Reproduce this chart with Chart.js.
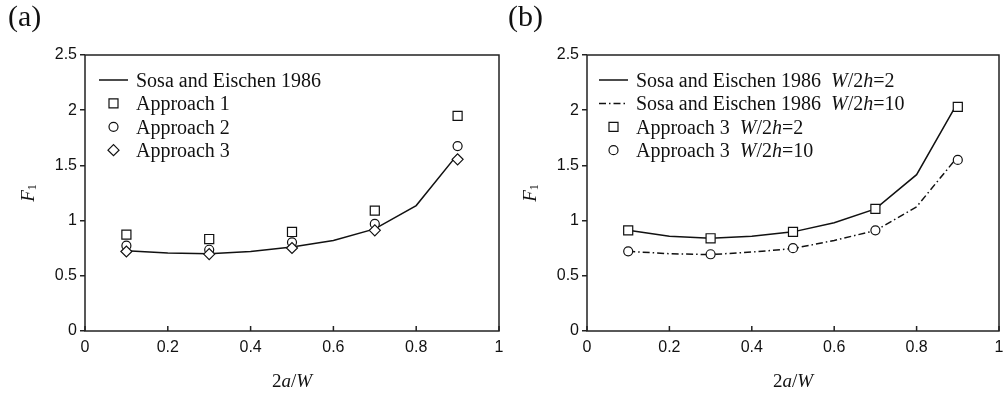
<!DOCTYPE html>
<html><head><meta charset="utf-8">
<script src="https://cdn.jsdelivr.net/npm/chart.js@4.4.1/dist/chart.umd.min.js"></script>
<style>
html,body{margin:0;padding:0;background:#fff;width:1003px;height:396px;overflow:hidden;position:relative;}
canvas{position:absolute;top:0;}
#ca{left:0;} #cb{left:500px;}
</style></head><body>
<canvas id="ca" width="540" height="396"></canvas>
<canvas id="cb" width="540" height="396"></canvas>
<script>
// ---- tick labels ----
const xTickValues = [0, 0.2, 0.4, 0.6, 0.8, 1];
const xTickLabels = ['0', '0.2', '0.4', '0.6', '0.8', '1'];
const yTickValues = [0, 0.5, 1, 1.5, 2, 2.5];
const yTickLabels = ['0', '0.5', '1', '1.5', '2', '2.5'];

// ---- categories (2a/W) ----
const sosaX = [0.1, 0.2, 0.3, 0.4, 0.5, 0.6, 0.7, 0.8, 0.9];
const approachX = [0.1, 0.3, 0.5, 0.7, 0.9];

// ---- panel (a) series ----
const sosaA = [0.727, 0.706, 0.70, 0.72, 0.76, 0.82, 0.925, 1.136, 1.60];
const approach1A = [0.873, 0.833, 0.897, 1.09, 1.948];
const approach2A = [0.773, 0.736, 0.803, 0.97, 1.675];
const approach3A = [0.72, 0.697, 0.752, 0.912, 1.555];

// ---- panel (b) series ----
const sosaB2 = [0.912, 0.858, 0.84, 0.858, 0.898, 0.98, 1.106, 1.416, 2.07];
const sosaB10 = [0.722, 0.70, 0.692, 0.715, 0.747, 0.82, 0.91, 1.125, 1.58];
const approach3B2 = [0.912, 0.84, 0.898, 1.106, 2.03];
const approach3B10 = [0.722, 0.695, 0.75, 0.912, 1.55];

const SERIF = "'Liberation Serif', 'Times New Roman', serif";
const SANS = "'Liberation Sans', Arial, sans-serif";
const INK = '#111';
const AXIS = '#222';

function pts(xs, ys) { return xs.map((x, i) => ({x: x, y: ys[i]})); }

function drawRuns(ctx, parts, x, y, align) {
  let w = 0;
  parts.forEach(p => { ctx.font = p[1]; w += ctx.measureText(p[0]).width; });
  let cx = align === 'center' ? x - w / 2 : x;
  parts.forEach(p => {
    ctx.font = p[1];
    ctx.fillText(p[0], cx, y + (p[2] || 0));
    cx += ctx.measureText(p[0]).width;
  });
  return w;
}
function runsWidth(ctx, parts) {
  let w = 0;
  parts.forEach(p => { ctx.font = p[1]; w += ctx.measureText(p[0]).width; });
  return w;
}

function drawMarker(ctx, kind, x, y) {
  ctx.save();
  ctx.strokeStyle = INK; ctx.fillStyle = '#fff'; ctx.lineWidth = 1.2;
  ctx.beginPath();
  if (kind === 'rect') { ctx.rect(x - 4.5, y - 4.5, 9, 9); }
  else if (kind === 'circle') { ctx.arc(x, y, 4.5, 0, Math.PI * 2); }
  else if (kind === 'rectRot') { ctx.moveTo(x - 5.5, y); ctx.lineTo(x, y - 5.5); ctx.lineTo(x + 5.5, y); ctx.lineTo(x, y + 5.5); ctx.closePath(); }
  ctx.fill(); ctx.stroke();
  ctx.restore();
}

function decor(panelLabel, legendRows) {
  return {
    id: 'decor',
    beforeDatasetsDraw(chart) {
      const {ctx, chartArea: a} = chart;
      ctx.save();
      ctx.strokeStyle = AXIS; ctx.lineWidth = 1.5;
      ctx.strokeRect(a.left, a.top, a.right - a.left, a.bottom - a.top);
      // inward x ticks
      const xs = chart.scales.x;
      ctx.beginPath();
      xs.ticks.forEach(t => {
        const px = xs.getPixelForValue(t.value);
        ctx.moveTo(px, a.bottom); ctx.lineTo(px, a.bottom - 5);
      });
      ctx.stroke();
      ctx.restore();
    },
    afterDraw(chart) {
      const {ctx, chartArea: a} = chart;
      ctx.save();
      ctx.fillStyle = INK;
      ctx.textBaseline = 'alphabetic';
      ctx.textAlign = 'left';
      // panel label
      ctx.font = '30px ' + SERIF;
      ctx.fillText(panelLabel, 8, 26);
      // x title 2a/W
      const it = 'italic 19px ' + SERIF, rm = '19px ' + SERIF;
      drawRuns(ctx, [['2', rm], ['a', it], ['/', rm], ['W', it]], (a.left + a.right) / 2, 387, 'center');
      // y title F1
      const yparts = [['F', it], ['1', '12px ' + SERIF, 2.5]];
      const yw = runsWidth(ctx, yparts);
      ctx.save();
      ctx.translate(a.left - 51.5, (a.top + a.bottom) / 2 + yw / 2);
      ctx.rotate(-Math.PI / 2);
      drawRuns(ctx, yparts, 0, 0, 'left');
      ctx.restore();
      // legend
      const lx0 = 99, lx1 = 128, mx = 113.5, tx = 136;
      const lt = '20px ' + SERIF, li = 'italic 20px ' + SERIF;
      legendRows.forEach((r, i) => {
        const cy = 80 + i * 23.4;
        if (r.kind === 'line') {
          ctx.save();
          ctx.strokeStyle = INK; ctx.lineWidth = 1.5;
          ctx.setLineDash(r.dash || []);
          ctx.beginPath(); ctx.moveTo(lx0, cy); ctx.lineTo(lx1, cy); ctx.stroke();
          ctx.restore();
        } else {
          drawMarker(ctx, r.kind, mx, cy);
        }
        const parts = r.text.map(s => [s[0], s[1] ? li : lt]);
        drawRuns(ctx, parts, tx, cy + 7, 'left');
      });
      ctx.restore();
    }
  };
}

function lineDs(label, xs, ys, dash) {
  return {type: 'line', label: label, data: pts(xs, ys), borderColor: INK, borderWidth: 1.5,
    borderDash: dash || [], pointRadius: 0, tension: 0, fill: false, order: 2};
}
function markDs(label, xs, ys, style, r) {
  return {type: 'scatter', label: label, data: pts(xs, ys), showLine: false, pointStyle: style,
    pointRadius: r, pointHoverRadius: r, pointBorderColor: INK, pointBackgroundColor: '#fff',
    pointBorderWidth: 1.2, order: 0};
}

function makeChart(id, yAxisWidth, datasets, label, rows) {
  return new Chart(document.getElementById(id), {
    type: 'line',
    data: {datasets: datasets},
    options: {
      responsive: false, animation: false, devicePixelRatio: 1,
      layout: {padding: {left: 0, right: 41, top: 55, bottom: 0}},
      plugins: {legend: {display: false}, tooltip: {enabled: false}, title: {display: false}},
      scales: {
        x: {
          type: 'linear', min: 0, max: 1,
          afterBuildTicks: s => { s.ticks = xTickValues.map(v => ({value: v})); },
          afterFit: s => { s.height = 65; },
          ticks: {callback: (v) => xTickLabels[xTickValues.indexOf(v)], color: INK,
            font: {family: SANS, size: 16}, padding: 7, maxRotation: 0, autoSkip: false},
          grid: {display: true, drawOnChartArea: false, drawTicks: false},
          border: {display: false}
        },
        y: {
          type: 'linear', min: 0, max: 2.5,
          afterBuildTicks: s => { s.ticks = yTickValues.map(v => ({value: v})); },
          afterFit: s => { s.width = yAxisWidth; },
          ticks: {callback: (v) => yTickLabels[yTickValues.indexOf(v)], color: INK,
            font: {family: SANS, size: 16}, padding: 3, autoSkip: false},
          grid: {display: true, drawOnChartArea: false, drawTicks: true, tickLength: 5, color: AXIS, lineWidth: 1.5},
          border: {display: false}
        }
      }
    },
    plugins: [decor(label, rows)]
  });
}

makeChart('ca', 85, [
  markDs('Approach 1', approachX, approach1A, 'rect', 6.4),
  markDs('Approach 2', approachX, approach2A, 'circle', 4.5),
  Object.assign(markDs('Approach 3', approachX, approach3A, 'rectRot', 5.5), {order: -1}),
  lineDs('Sosa and Eischen 1986', sosaX, sosaA)
], '(a)', [
  {kind: 'line', text: [['Sosa and Eischen 1986']]},
  {kind: 'rect', text: [['Approach 1']]},
  {kind: 'circle', text: [['Approach 2']]},
  {kind: 'rectRot', text: [['Approach 3']]}
]);

const DASHDOT = [7, 3, 1.5, 3];
makeChart('cb', 87, [
  markDs('Approach 3 W/2h=2', approachX, approach3B2, 'rect', 6.4),
  markDs('Approach 3 W/2h=10', approachX, approach3B10, 'circle', 4.5),
  lineDs('Sosa and Eischen 1986 W/2h=2', sosaX, sosaB2),
  lineDs('Sosa and Eischen 1986 W/2h=10', sosaX, sosaB10, DASHDOT)
], '(b)', [
  {kind: 'line', text: [['Sosa and Eischen 1986  '], ['W', 1], ['/2'], ['h', 1], ['=2']]},
  {kind: 'line', dash: DASHDOT, text: [['Sosa and Eischen 1986  '], ['W', 1], ['/2'], ['h', 1], ['=10']]},
  {kind: 'rect', text: [['Approach 3  '], ['W', 1], ['/2'], ['h', 1], ['=2']]},
  {kind: 'circle', text: [['Approach 3  '], ['W', 1], ['/2'], ['h', 1], ['=10']]}
]);
</script>
</body></html>
